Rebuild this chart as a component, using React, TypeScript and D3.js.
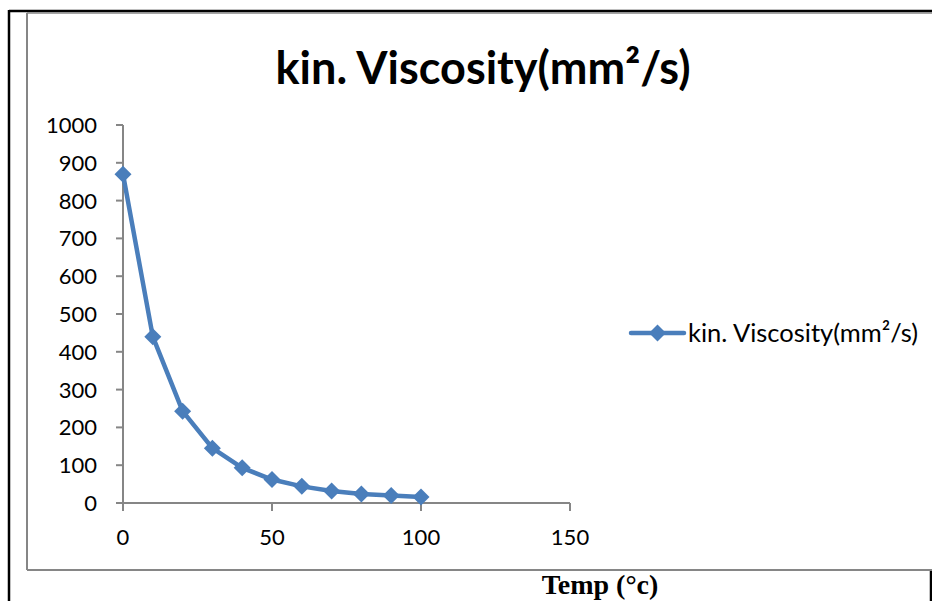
import React from "react";
import * as d3 from "d3";

const temps = [0, 10, 20, 30, 40, 50, 60, 70, 80, 90, 100];
const viscosity = [870, 440, 243, 145, 93, 62, 44, 32, 24, 20, 16];
const yTicks = [0, 100, 200, 300, 400, 500, 600, 700, 800, 900, 1000];
const xTicks = [0, 50, 100, 150];
const titleText = "kin. Viscosity(mm²/s)";
const seriesName = "kin. Viscosity(mm²/s)";
const xAxisTitle = "Temp (°c)";

const W = 932;
const H = 601;
const BLUE = "#4A7EBB";
const AXIS = "#868686";
const FONT = "Lato, 'Open Sans', sans-serif";

export default function App() {
  const x = d3.scaleLinear().domain([0, 150]).range([123, 570]);
  const y = d3.scaleLinear().domain([0, 1000]).range([503, 125]);
  const line = d3
    .line<number>()
    .x((_, i) => x(temps[i]))
    .y((d) => y(d));
  const diamond = (cx: number, cy: number, r: number) =>
    `M${cx},${cy - r}L${cx + r},${cy}L${cx},${cy + r}L${cx - r},${cy}Z`;

  return (
    <svg
      width={W}
      height={H}
      style={{ position: "absolute", left: 0, top: 0, background: "#fff" }}
    >
      <rect x={0} y={0} width={W} height={H} fill="#fff" />
      {/* outer black frame */}
      <line x1={9} y1={11} x2={W} y2={11} stroke="#000" strokeWidth={2.5} />
      <line x1={9} y1={10} x2={9} y2={H} stroke="#000" strokeWidth={2.5} />
      <line x1={931} y1={570} x2={931} y2={H} stroke="#000" strokeWidth={2.5} />
      {/* inner gray chart border */}
      <line x1={27} y1={13} x2={W} y2={13} stroke={AXIS} strokeWidth={1.5} />
      <line x1={27} y1={13} x2={27} y2={570} stroke={AXIS} strokeWidth={2} />
      <line x1={27} y1={570} x2={W} y2={570} stroke={AXIS} strokeWidth={2} />

      {/* title */}
      <text
        x={483}
        y={84}
        textAnchor="middle"
        fontFamily={FONT}
        fontWeight="bold"
        fontSize={45}
        fill="#000"
      >
        {titleText}
      </text>

      {/* y axis */}
      <line x1={x(0)} y1={y(0)} x2={x(0)} y2={y(1000)} stroke={AXIS} strokeWidth={2} />
      {yTicks.map((t) => (
        <g key={"y" + t}>
          <line x1={x(0) - 7} y1={y(t)} x2={x(0)} y2={y(t)} stroke={AXIS} strokeWidth={2} />
          <text
            x={97}
            y={y(t)}
            dy="0.36em"
            textAnchor="end"
            fontFamily={FONT}
            fontSize={22}
            fill="#000"
          >
            {t}
          </text>
        </g>
      ))}

      {/* x axis */}
      <line x1={x(0)} y1={y(0)} x2={x(150)} y2={y(0)} stroke={AXIS} strokeWidth={2} />
      {xTicks.map((t) => (
        <g key={"x" + t}>
          <line x1={x(t)} y1={y(0)} x2={x(t)} y2={y(0) + 8} stroke={AXIS} strokeWidth={2} />
          <text
            x={x(t)}
            y={545}
            textAnchor="middle"
            fontFamily={FONT}
            fontSize={22}
            fill="#000"
          >
            {t}
          </text>
        </g>
      ))}

      {/* series */}
      <path
        d={line(viscosity) || ""}
        fill="none"
        stroke={BLUE}
        strokeWidth={4.5}
        strokeLinejoin="round"
      />
      {viscosity.map((v, i) => (
        <path key={"m" + i} d={diamond(x(temps[i]), y(v), 8.5)} fill={BLUE} />
      ))}

      {/* legend */}
      <line x1={631} y1={333} x2={684} y2={333} stroke={BLUE} strokeWidth={4.5} strokeLinecap="round" />
      <path d={diamond(657.5, 333, 8.5)} fill={BLUE} />
      <text x={688} y={333} dy="0.36em" fontFamily={FONT} fontSize={25.5} fill="#000">
        {seriesName}
      </text>

      {/* x axis title */}
      <text
        x={600}
        y={594}
        textAnchor="middle"
        fontFamily="'Liberation Serif', 'Times New Roman', serif"
        fontWeight="bold"
        fontSize={28}
        fill="#000"
      >
        {xAxisTitle}
      </text>
    </svg>
  );
}
